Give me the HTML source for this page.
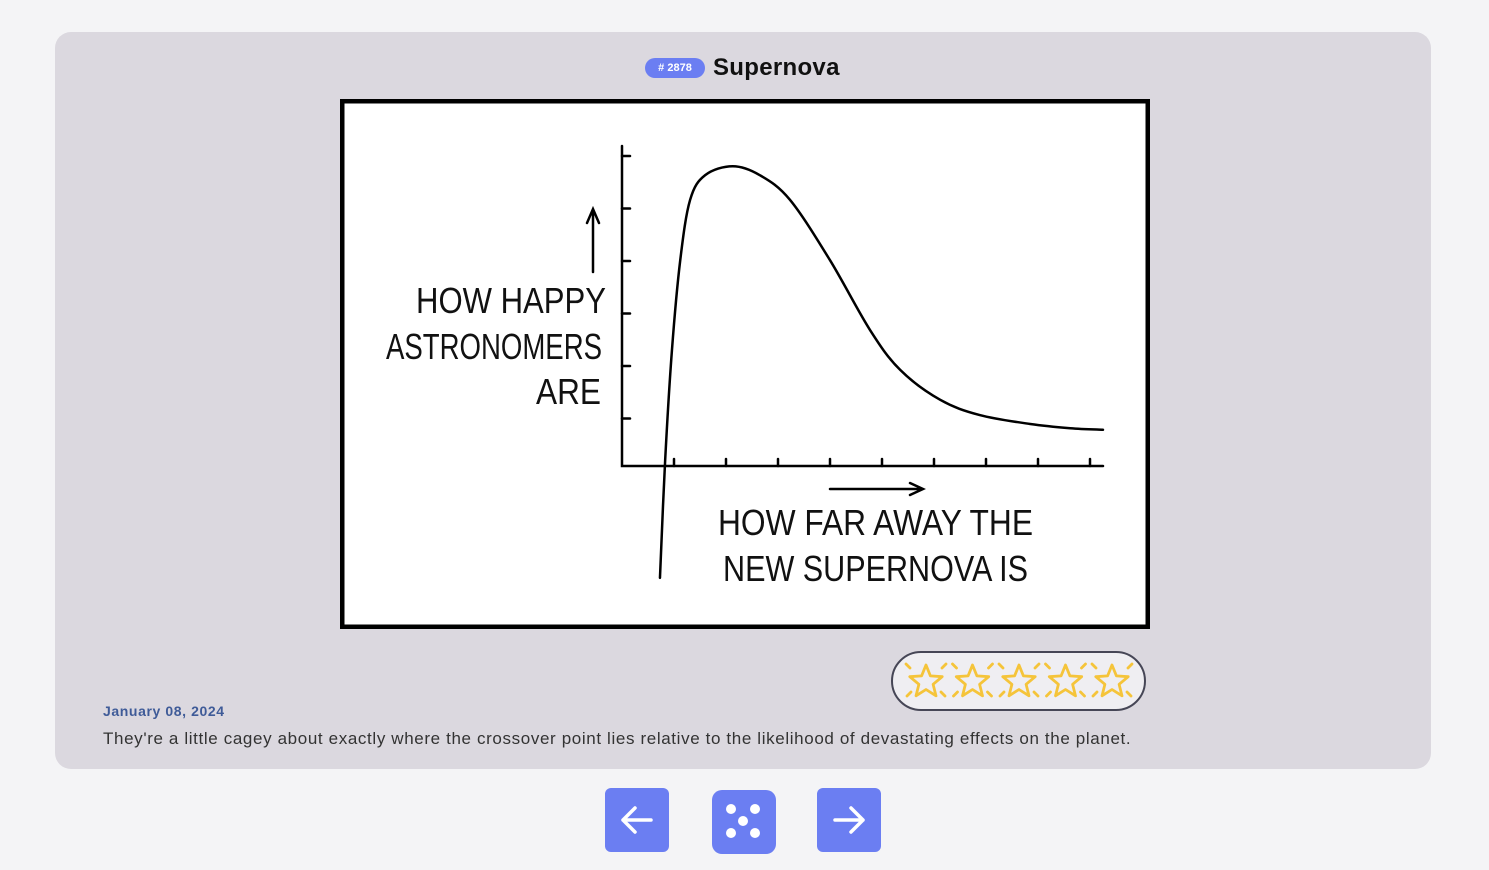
<!DOCTYPE html>
<html><head><meta charset="utf-8"><style>
body{margin:0;width:1489px;height:870px;background:#f4f4f6;font-family:"Liberation Sans",sans-serif;position:relative;overflow:hidden}
.card{position:absolute;left:55px;top:32px;width:1376px;height:737px;background:#dbd8df;border-radius:16px}
.badge{position:absolute;left:645px;top:58px;width:60px;height:20px;border-radius:10px;background:#6b7ef2;color:#fff;font-size:11px;font-weight:bold;text-align:center;line-height:20px}
.title{position:absolute;left:713px;top:54px;font-size:24px;font-weight:bold;color:#111;letter-spacing:0.3px}
.comic{position:absolute;left:340px;top:99px}
.rating{position:absolute;left:891px;top:651px;width:251px;height:56px;border:2px solid #464656;border-radius:30px;background:#efeef2}
.date{position:absolute;left:103px;top:703px;font-size:14px;font-weight:bold;color:#3f5b98;letter-spacing:0.6px}
.cap{position:absolute;left:103px;top:729px;font-size:17px;color:#333;letter-spacing:0.63px}
.btn{position:absolute;top:788px;width:64px;height:64px;background:#6b7ef2;border-radius:6px}
</style></head><body>
<div class="card"></div>
<div class="badge"># 2878</div>
<div class="title">Supernova</div>
<svg class="comic" width="810" height="530">
<rect x="2" y="2" width="806" height="526" fill="#fff" stroke="#000" stroke-width="5"/>
<g id="plot" stroke="#000" stroke-width="2.5" fill="none" stroke-linecap="round"></g>
<g font-family="'Liberation Sans Narrow','Liberation Sans',sans-serif" font-size="36" fill="#111" lengthAdjust="spacingAndGlyphs">
<text x="76" y="214" textLength="190" lengthAdjust="spacingAndGlyphs">HOW HAPPY</text>
<text x="46" y="260" textLength="216" lengthAdjust="spacingAndGlyphs">ASTRONOMERS</text>
<text x="196" y="305" textLength="65" lengthAdjust="spacingAndGlyphs">ARE</text>
<text x="378" y="436" textLength="315" lengthAdjust="spacingAndGlyphs">HOW FAR AWAY THE</text>
<text x="383" y="482" textLength="305" lengthAdjust="spacingAndGlyphs">NEW SUPERNOVA IS</text>
</g>
</svg>
<script>
const curveX=[0.73,0.83,0.96,1.12,1.31,1.6,2.13,2.65,3.23,4,4.77,5.35,6.12,6.88,7.85,8.62,9.25];
const curveY=[-2.13,0.11,2.2,3.92,5.07,5.54,5.71,5.54,5.07,3.92,2.59,1.83,1.26,0.97,0.8,0.72,0.69];
const xTicks=[1,2,3,4,5,6,7,8,9];
const yTicks=[1,2,3,4,5,6];
const ox=282,oy=367,ux=52,uy=52.5;
const sx=v=>ox+v*ux, sy=v=>oy-v*uy;
const g=document.getElementById('plot');
const NS='http://www.w3.org/2000/svg';
function add(tag,attrs,name){const e=document.createElementNS(NS,tag);for(const k in attrs)e.setAttribute(k,attrs[k]);


g.appendChild(e);return e;}
add('path',{d:`M${ox} 47 L${ox} ${oy} L${sx(9.25)} ${oy}`},'axes');
xTicks.forEach(t=>add('line',{x1:sx(t),x2:sx(t),y1:oy,y2:oy-7},'x-tick'));
yTicks.forEach(t=>add('line',{x1:ox,x2:ox+8,y1:sy(t)+5,y2:sy(t)+5},'y-tick'));
add('path',{d:`M253 173 L253 112 M247 124 L253 110 L259 124`},'y-axis-arrow');
add('path',{d:`M490 390 L582 390 M570 384 L583 390 L570 396`},'x-axis-arrow');
const P=curveX.map((x,i)=>[sx(x),sy(curveY[i])]);
let d=`M${P[0][0]} ${P[0][1]}`;
for(let i=0;i<P.length-1;i++){const p0=P[Math.max(0,i-1)],p1=P[i],p2=P[i+1],p3=P[Math.min(P.length-1,i+2)];
d+=` C${p1[0]+(p2[0]-p0[0])/6} ${p1[1]+(p2[1]-p0[1])/6} ${p2[0]-(p3[0]-p1[0])/6} ${p2[1]-(p3[1]-p1[1])/6} ${p2[0]} ${p2[1]}`;}
add('path',{d:d},'supernova-curve');
</script>
<div class="rating">
<svg width="251" height="56">
<g fill="none" stroke="#f5c43a" stroke-width="2.8" stroke-linejoin="round" stroke-linecap="round">
<g id="stars"></g></g></svg></div>
<script>
const sg=document.getElementById('stars');
for(let i=0;i<5;i++){const cx=33+i*46.5,cy=29;let pts=[];
for(let k=0;k<10;k++){const r=k%2?7.5:17,a=-Math.PI/2+k*Math.PI/5;pts.push((cx+r*Math.cos(a)).toFixed(1)+','+(cy+r*Math.sin(a)).toFixed(1));}
const p=document.createElementNS('http://www.w3.org/2000/svg','polygon');p.setAttribute('points',pts.join(' '));


sg.appendChild(p);
[[-16,-14,-20,-18],[16,-14,20,-18],[-15,10,-19,14],[15,10,19,14]].forEach(s=>{const l=document.createElementNS('http://www.w3.org/2000/svg','line');
l.setAttribute('x1',cx+s[0]);l.setAttribute('y1',cy+s[1]);l.setAttribute('x2',cx+s[2]);l.setAttribute('y2',cy+s[3]);sg.appendChild(l);});}
</script>
<div class="date">January 08, 2024</div>
<div class="cap">They're a little cagey about exactly where the crossover point lies relative to the likelihood of devastating effects on the planet.</div>
<div class="btn" style="left:605px"><svg width="64" height="64"><path d="M46 32H18M30 20L18 32L30 44" stroke="#fff" stroke-width="3.5" fill="none" stroke-linecap="round" stroke-linejoin="round"/></svg></div>
<div class="btn" style="left:712px;top:790px;border-radius:10px"><svg width="64" height="64" fill="#fff"><circle cx="19" cy="19" r="5"/><circle cx="43" cy="19" r="5"/><circle cx="31" cy="31" r="5"/><circle cx="19" cy="43" r="5"/><circle cx="43" cy="43" r="5"/></svg></div>
<div class="btn" style="left:817px"><svg width="64" height="64"><path d="M18 32H46M34 20L46 32L34 44" stroke="#fff" stroke-width="3.5" fill="none" stroke-linecap="round" stroke-linejoin="round"/></svg></div>
</body></html>
